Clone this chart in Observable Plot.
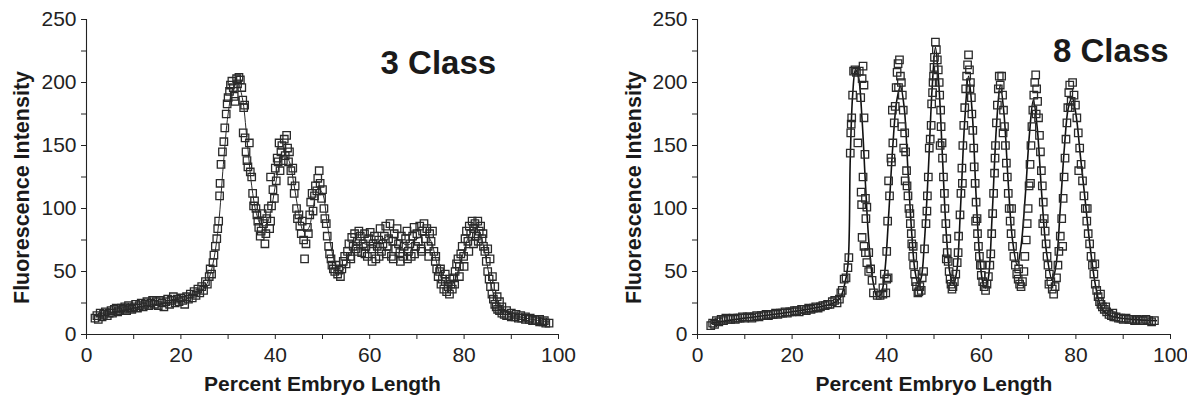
<!DOCTYPE html>
<html>
<head>
<meta charset="utf-8">
<script src="https://cdn.jsdelivr.net/npm/d3@7"></script>
<script src="https://cdn.jsdelivr.net/npm/@observablehq/plot@0.6"></script>
<style>
  html, body { margin: 0; padding: 0; background: #fff; }
  #wrap { display: flex; width: 1187px; height: 396px; overflow: hidden; }
</style>
</head>
<body>
<div id="wrap"></div>
<script>
// ---------- data ----------
const xLabel = "Percent Embryo Length";
const yLabel = "Fluorescence Intensity";
const panelTitles = ["3 Class", "8 Class"];
const xTicks = [0, 20, 40, 60, 80, 100];
const xMinorTicks = [10, 30, 50, 70, 90];
const yTicks = [0, 50, 100, 150, 200, 250];
const yMinorTicks = [25, 75, 125, 175, 225];

// 3 Class: measured points [percent length, intensity]
const class3Points = [
[1.8,13],[2.2,15],[2.5,12],[2.9,17],[3.3,14],[3.6,16],[4.0,18],[4.4,15],[4.8,17],[5.2,19],[5.5,17],[5.9,20],[6.3,21],[6.6,18],[7.0,19],[7.4,21],[7.8,20],[8.1,22],[8.5,19],[8.9,23],[9.2,21],[9.6,20],[10.0,22],[10.4,24],[10.8,21],[11.2,23],[11.6,25],[12.0,22],[12.4,24],[12.8,26],[13.2,23],[13.6,25],[14.0,27],[14.4,24],[14.8,26],[15.2,23],[15.6,27],[16.0,25],[16.4,22],[16.8,26],[17.2,28],[17.6,24],[18.0,27],[18.4,30],[18.8,25],[19.2,28],[19.6,26],[20.0,29],[20.4,27],[20.8,24],[21.2,30],[21.6,28],[22.0,32],[22.4,29],[22.8,34],[23.2,31],[23.6,36],[24.0,33],[24.4,38],[24.8,35],[25.2,42],[25.6,40],[26.0,46],[26.2,52],[26.5,48],[26.8,57],[27.0,63],[27.3,70],[27.6,76],[27.8,84],[28.0,90],[28.2,110],[28.3,120],[28.5,135],[28.8,145],[29.1,153],[29.3,164],[29.6,175],[29.8,183],[30.0,188],[30.3,193],[30.5,198],[30.8,201],[31.1,196],[31.3,189],[31.5,185],[31.8,203],[32.0,199],[32.3,204],[32.6,202],[32.9,196],[33.1,186],[33.3,180],[33.5,182],[33.2,160],[33.6,156],[33.8,145],[34.0,138],[34.2,133],[34.5,152],[34.7,129],[35.0,125],[35.2,112],[35.4,102],[35.6,106],[35.9,100],[36.1,95],[36.3,90],[36.5,85],[36.8,78],[37.0,82],[37.2,96],[37.5,88],[37.8,72],[38.0,80],[38.2,92],[38.5,100],[38.8,84],[39.0,90],[39.2,102],[39.0,125],[39.5,115],[39.8,108],[40.0,132],[40.2,122],[40.4,140],[40.6,137],[40.8,152],[41.0,130],[41.2,145],[41.4,150],[41.7,138],[41.9,155],[42.1,142],[42.4,158],[42.6,148],[42.8,137],[43.0,145],[43.3,130],[43.5,122],[43.7,132],[44.0,112],[44.2,118],[44.5,100],[44.7,92],[45.0,95],[45.2,86],[45.5,80],[45.7,90],[46.0,75],[46.2,60],[46.5,72],[46.8,85],[47.0,80],[47.3,95],[47.5,105],[47.8,112],[48.0,98],[48.3,110],[48.5,118],[48.8,114],[49.0,124],[49.3,130],[49.5,120],[49.8,108],[50.0,115],[50.3,100],[50.5,92],[50.8,88],[51.0,78],[51.3,70],[51.5,64],[51.8,60],[52.0,55],[52.3,52],[52.6,50],[52.9,55],[53.2,48],[53.5,51],[53.8,46],[54.1,52],[54.4,58],[54.7,62],[55.0,56],[55.3,66],[55.6,72],[55.9,62],[56.2,77],[56.5,70],[56.8,80],[57.1,68],[57.4,74],[57.7,82],[58.0,78],[58.3,65],[58.6,72],[58.9,80],[59.2,70],[59.5,62],[59.8,76],[60.1,81],[60.4,68],[60.7,72],[61.0,78],[61.3,60],[61.6,70],[61.9,75],[62.2,84],[62.5,66],[62.8,72],[63.1,78],[63.4,86],[63.7,70],[64.0,76],[64.3,88],[64.6,62],[64.9,74],[65.2,80],[65.5,68],[65.8,84],[66.1,72],[66.4,65],[66.7,78],[67.0,62],[67.3,70],[67.6,76],[67.9,82],[68.2,66],[68.5,72],[68.8,62],[69.1,78],[69.4,85],[69.7,70],[70.0,80],[70.3,74],[70.6,86],[70.9,68],[71.2,82],[71.5,88],[71.8,76],[72.1,84],[72.4,70],[72.7,80],[73.0,74],[73.3,82],[73.6,66],[73.9,58],[74.2,52],[74.5,46],[74.8,50],[75.1,40],[75.4,44],[75.7,36],[76.0,42],[76.3,34],[76.6,38],[76.9,32],[77.2,40],[77.5,36],[77.8,45],[78.1,50],[78.4,56],[78.7,60],[79.0,54],[79.3,64],[79.6,70],[79.9,62],[80.2,76],[80.5,82],[80.8,74],[81.1,86],[81.4,80],[81.7,90],[82.0,84],[82.3,88],[82.6,78],[82.9,90],[83.2,82],[83.5,86],[83.8,76],[84.1,70],[84.4,66],[84.7,58],[85.0,50],[85.3,44],[85.6,38],[85.9,32],[86.2,28],[86.5,24],[86.8,22],[87.1,20],[87.5,19],[88.0,17],[88.5,16],[89.0,15],[89.5,15],[90.0,14],[90.8,14],[91.5,13],[92.2,13],[93.0,12],[93.8,12],[94.5,11],[95.2,11],[96.0,10],[96.7,10],[97.3,9],[98.0,9],
[56.0,60],[57.5,66],[59.0,64],[60.5,58],[62.0,62],[63.5,64],[65.0,60],[66.5,58],[68.0,60],[69.5,64],[71.0,66],[72.5,62],[74.0,62],[75.0,52],[76.0,48],[77.0,44],[78.0,40],[79.0,46],[80.0,54],[81.0,66],[82.0,72],[83.0,74],[84.0,80],[85.0,68],[85.5,60],[86.0,46],[86.5,38],[87.0,30],[87.5,26],[88.0,22],[89.0,19],[90.0,17],[91.0,16],[92.0,15],[93.0,14],[94.0,13],[95.0,12],[96.0,12],[97.0,11]
];
// 3 Class: fitted curve
const class3Fit = [
[2,14],[5,17],[10,21],[15,24],[20,27],[23,31],[25,37],[26,45],[27,60],[28,88],[29,135],[30,175],[31,195],[32,200],[33,188],[34,155],[35,118],[36,96],[37,87],[38,87],[39,97],[40,118],[41,136],[42,143],[43,137],[44,118],[45,96],[46,82],[47,84],[48,100],[49,116],[50,112],[51,88],[52,66],[53,53],[54,50],[55,56],[56,66],[57,72],[58,73],[60,71],[62,74],[64,78],[66,75],[68,71],[70,76],[72,79],[73,74],[74,60],[75,46],[76,40],[77,38],[78,43],[79,54],[80,67],[81,78],[82,84],[83,83],[84,72],[85,53],[86,35],[87,25],[88,20],[90,16],[93,13],[96,11],[98,10]
];

// 8 Class: measured points
const class8Points = [
[2.8,7],[3.2,9],[3.6,8],[4.0,11],[4.5,10],[5.0,12],[5.5,11],[6.0,13],[6.5,12],[7.0,12],[7.5,13],[8.0,12],[8.5,13],[9.0,13],[9.5,14],[10.0,13],[10.5,14],[11.0,14],[11.5,13],[12.0,14],[12.5,15],[13.0,14],[13.5,15],[14.0,15],[14.5,16],[15.0,15],[15.5,16],[16.0,16],[16.5,17],[17.0,16],[17.5,17],[18.0,17],[18.5,18],[19.0,17],[19.5,18],[20.0,18],[20.5,19],[21.0,19],[21.5,18],[22.0,20],[22.5,20],[23.0,19],[23.5,21],[24.0,20],[24.5,21],[25.0,22],[25.5,21],[26.0,22],[26.5,23],[27.0,23],[27.5,24],[28.0,24],[28.5,26],[29.0,27],[29.5,25],[30.0,28],[30.3,33],[30.6,35],[31.0,44],[31.4,45],[31.8,53],[32.0,61],[32.3,144],[32.4,160],[32.5,167],[32.6,172],[32.8,190],[33.0,209],[33.3,210],[33.6,208],[33.9,152],[34.2,209],[34.5,188],[34.8,203],[35.0,213],[35.2,198],[35.2,172],[35.4,143],[35.0,125],[34.6,113],[34.7,103],[35.5,108],[35.8,101],[35.6,92],[34.8,77],[35.2,70],[35.5,65],[36.2,65],[35.8,57],[36.2,50],[36.6,52],[36.9,43],[37.2,33],[38.0,31],[38.6,31],[39.2,32],[39.8,33],[40.0,44],[40.3,45],
[39.2,37],[39.5,48],[40.0,66],[40.2,90],[40.6,110],[40.4,122],[41.0,137],[41.3,152],[41.6,168],[41.2,178],[41.8,181],[42.0,196],[42.2,208],[42.4,215],[42.7,218],[42.9,205],[43.1,200],[43.3,190],[43.5,178],[43.2,165],[43.8,160],[43.6,148],[44.0,145],[44.2,130],[44.3,118],[44.5,110],[44.7,100],[44.9,96],[45.0,88],[45.2,80],[45.3,72],[45.5,62],[45.7,55],[45.9,48],[46.1,42],[46.3,38],[46.6,33],[46.8,34],[47.0,38],[47.3,35],[47.5,45],
[47.8,50],[48.0,68],[48.3,88],[48.5,98],[48.8,125],[49.0,148],[49.2,155],[49.4,166],[49.5,183],[49.7,192],[49.8,200],[50.0,212],[50.1,220],[50.3,232],[50.5,226],[50.7,218],[50.9,210],[51.1,200],[51.2,190],[51.4,178],[51.5,165],[51.7,152],[51.8,140],[52.0,125],[52.2,112],[52.3,100],[52.5,88],[52.7,76],[52.8,65],[53.0,58],[53.2,50],[53.4,44],[53.6,40],[53.8,36],[54.0,38],[54.3,42],[54.6,48],[54.9,57],[55.1,65],
[55.2,78],[55.5,95],[55.7,112],[55.9,132],[56.1,150],[56.3,166],[56.5,180],[56.7,195],[56.9,205],[57.1,214],[57.3,222],[57.5,210],[57.7,200],[57.9,188],[58.0,175],[58.2,162],[58.4,148],[58.5,133],[58.7,120],[58.9,105],[59.1,92],[59.2,80],[59.4,70],[59.6,62],[59.8,55],[60.0,47],[60.3,42],[60.6,38],[60.9,35],[61.2,40],[61.5,46],[61.8,55],[62.0,64],
[62.2,80],[62.4,96],[62.6,112],[62.8,128],[63.0,150],[63.2,168],[63.4,182],[63.6,195],[63.8,205],[64.0,198],[64.3,205],[64.5,190],[64.7,178],[64.9,165],[65.1,150],[65.3,136],[65.5,125],[65.7,112],[65.9,100],[66.1,90],[66.3,80],[66.6,70],[66.9,62],[67.2,55],[67.5,48],[67.8,44],[68.1,40],[68.4,38],[68.7,42],[69.0,50],[69.2,62],
[69.5,75],[69.7,88],[69.9,100],[70.1,118],[70.3,135],[70.5,150],[70.7,165],[70.9,178],[71.1,190],[71.3,200],[71.5,206],[71.7,195],[71.9,185],[72.1,172],[72.3,158],[72.5,145],[72.7,130],[72.9,118],[73.1,105],[73.3,92],[73.5,82],[73.7,72],[73.9,62],[74.1,55],[74.4,48],[74.7,42],[75.0,36],[75.3,32],[75.6,38],[75.9,45],[76.2,55],
[76.4,66],[76.7,78],[77.0,92],[77.3,108],[77.5,125],[77.7,140],[77.9,155],[78.1,168],[78.3,180],[78.5,192],[78.7,198],[79.0,185],[79.3,200],[79.6,190],[79.9,182],[80.2,172],[80.5,160],[80.8,148],[81.1,135],[81.4,122],[81.7,110],[82.0,100],[82.3,90],[82.6,80],[82.9,72],[83.2,62],[83.5,55],[83.8,48],[84.1,40],[84.4,35],[84.7,30],[85.0,26],[85.3,24],[85.6,22],[86.0,20],[86.5,18],[87.0,16],[87.5,15],[88.0,14],[88.5,14],[89.0,13],[89.5,13],[90.0,12],[90.6,13],[91.2,12],[91.8,12],[92.4,11],[93.0,12],[93.6,11],[94.2,11],[94.8,12],[95.4,11],[96.0,10],[96.6,11],
[40.9,140],[42.5,196],[43.9,122],[45.6,70],[48.6,110],[49.9,205],[51.3,150],[52.6,60],[56.0,120],[57.6,195],[58.8,90],[60.1,55],[62.9,140],[64.6,160],[66.4,100],[67.9,52],[70.4,120],[71.6,175],[73.0,88],[74.3,40],[77.2,70],[78.8,180],[80.6,130],[82.4,100],[84.0,56],[85.2,32],[86.3,22],[87.8,17]
];
// 8 Class: fitted curve
const class8Fit = [
[3,9],[10,13],[20,18],[28,24],[30,28],[31,38],[31.8,55],[32.3,140],[32.8,190],[33.4,210],[34,205],[34.8,170],[35.5,120],[36.3,70],[37.2,40],[38,30],[38.8,32],[39.6,50],[40.5,100],[41.3,150],[42.1,185],[42.9,197],[43.7,180],[44.5,130],[45.3,80],[46,50],[46.7,40],[47.3,45],[48,75],[48.8,130],[49.6,195],[50.3,228],[51,200],[51.8,140],[52.6,80],[53.4,48],[54.1,40],[54.8,50],[55.6,100],[56.5,170],[57.3,205],[58.1,175],[58.9,110],[59.7,60],[60.4,40],[60.9,37],[61.5,45],[62.3,95],[63.2,165],[64,198],[64.8,175],[65.7,120],[66.6,75],[67.6,55],[68.4,70],[69.3,110],[70.2,160],[71,186],[71.8,165],[72.8,110],[73.8,65],[75,43],[75.8,55],[76.7,100],[77.6,150],[78.4,180],[79.2,188],[80,175],[81,140],[82,105],[83,70],[84,42],[85,25],[86,18],[88,14],[92,12],[97,11]
];

// ---------- drawing ----------
const FONT = "'Liberation Sans', Arial, Helvetica, sans-serif";
const INK = "#222";

function panel({points, fit, title, titleX, titleY, titleAnchor, width, marginLeft, marginRight, fitWidth, ylabDx}) {
  return Plot.plot({
    width, height: 396,
    marginLeft, marginRight, marginTop: 19, marginBottom: 62,
    x: {domain: [0, 100]},
    y: {domain: [0, 250]},
    style: {fontFamily: FONT, fontSize: "21px", color: INK, background: "#fff", overflow: "visible"},
    marks: [
      Plot.axisX({ticks: xTicks, tickSize: 5, tickPadding: 8, label: null, fontSize: 21}),
      Plot.axisX({ticks: xMinorTicks, tickSize: 5, tickFormat: () => "", label: null}),
      Plot.axisY({ticks: yTicks, tickSize: 5, tickPadding: 5, label: null, fontSize: 21}),
      Plot.axisY({ticks: yMinorTicks, tickSize: 5, tickFormat: () => "", label: null}),
      Plot.ruleY([0], {stroke: INK, strokeWidth: 1.1}),
      Plot.ruleX([0], {stroke: INK, strokeWidth: 1.1}),
      Plot.line(fit, {x: d => d[0], y: d => d[1], stroke: "#111", strokeWidth: fitWidth, curve: "catmull-rom"}),
      Plot.dot(points, {x: d => d[0], y: d => d[1], symbol: "square", r: 4.2, stroke: "#2a2a2a", strokeWidth: 1.3, fill: "none"}),
      Plot.text([title], {x: titleX, y: titleY, text: d => d, textAnchor: titleAnchor, lineAnchor: "bottom", fontSize: 33, fontWeight: "bold", fill: "#1a1a1a"}),
      Plot.text([xLabel], {frameAnchor: "bottom", dy: 56, lineAnchor: "bottom", text: d => d, fontSize: 21, fontWeight: "bold", fill: "#1a1a1a"}),
      Plot.text([yLabel], {frameAnchor: "left", dx: ylabDx, dy: 10.5, rotate: -90, text: d => d, lineAnchor: "middle", textAnchor: "middle", fontSize: 21.5, fontWeight: "bold", fill: "#1a1a1a"})
    ]
  });
}

const wrap = document.getElementById("wrap");
wrap.append(panel({
  points: class3Points, fit: class3Fit, title: panelTitles[0],
  titleX: 62.3, titleY: 207, titleAnchor: "start",
  width: 593, marginLeft: 86, marginRight: 35, fitWidth: 0.9, ylabDx: -64
}));
wrap.append(panel({
  points: class8Points, fit: class8Fit, title: panelTitles[1],
  titleX: 99.6, titleY: 216, titleAnchor: "end",
  width: 594, marginLeft: 104, marginRight: 17, fitWidth: 1.6, ylabDx: -63
}));
</script>
</body>
</html>
